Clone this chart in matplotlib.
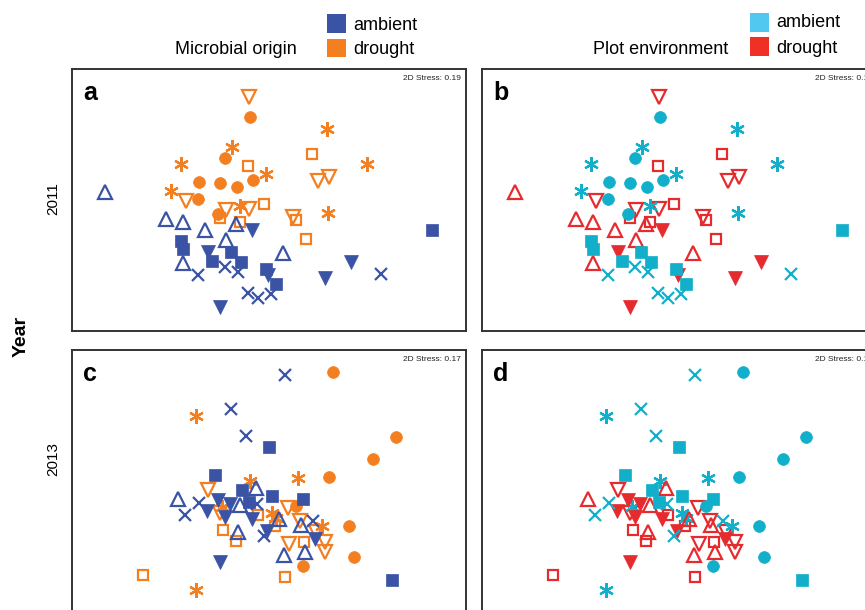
import matplotlib
matplotlib.use('Agg')
import matplotlib.pyplot as plt
from matplotlib.patches import Rectangle

plt.rcParams['font.family'] = ['Liberation Sans', 'DejaVu Sans']

# NMDS scores (same ordination in both columns,
# only the colouring differs). Marker = origin x environment combination.

# 2011
x11_sq_fill = [-0.88, -0.86, -0.38, -0.57, -0.28, -0.03, 0.07, 1.63]
y11_sq_fill = [-0.41, -0.49, -0.52, -0.61, -0.62, -0.69, -0.84, -0.30]
x11_cross = [-0.71, -0.44, -0.31, -0.21, -0.11, 0.02, 1.12]
y11_cross = [-0.75, -0.67, -0.72, -0.93, -0.98, -0.94, -0.74]
x11_tri_up = [-1.64, -1.03, -0.86, -0.64, -0.33, -0.43, 0.14, -0.86]
y11_tri_up = [0.08, -0.19, -0.22, -0.30, -0.24, -0.40, -0.53, -0.63]
x11_tri_dn_fill = [-0.17, -0.61, -0.01, 0.56, 0.82, -0.49]
y11_tri_dn_fill = [-0.30, -0.52, -0.75, -0.78, -0.62, -1.07]
x11_circle = [-0.19, -0.44, -0.70, -0.49, -0.32, -0.16, -0.71, -0.51]
y11_circle = [0.83, 0.42, 0.18, 0.17, 0.13, 0.20, 0.01, -0.14]
x11_star = [-0.37, -0.88, 0.58, -0.03, 0.98, -0.98, -0.29, 0.59]
y11_star = [0.53, 0.36, 0.71, 0.26, 0.36, 0.09, -0.06, -0.13]
x11_tri_dn = [-0.20, 0.49, 0.60, -0.83, -0.20, -0.43, 0.24]
y11_tri_dn = [1.03, 0.19, 0.23, -0.01, -0.09, -0.10, -0.17]
x11_sq_open = [0.43, -0.21, -0.05, -0.49, -0.29, 0.27, 0.37]
y11_sq_open = [0.46, 0.34, -0.04, -0.18, -0.22, -0.20, -0.39]

# 2013
x13_sq_fill = [0.00, -0.54, -0.27, 0.03, 0.34, -0.20, 1.23]
y13_sq_fill = [0.34, 0.06, -0.09, -0.15, -0.18, -0.21, -0.99]
x13_cross = [0.16, -0.38, -0.23, -0.70, -0.84, -0.12, -0.05, 0.44]
y13_cross = [1.06, 0.72, 0.45, -0.22, -0.34, -0.23, -0.55, -0.40]
x13_tri_up = [-0.91, -0.13, -0.29, 0.10, 0.32, -0.31, 0.15, 0.36]
y13_tri_up = [-0.18, -0.07, -0.24, -0.38, -0.44, -0.51, -0.74, -0.71]
x13_tri_dn_fill = [-0.51, -0.39, -0.62, -0.44, -0.17, -0.02, 0.46, -0.49]
y13_tri_dn_fill = [-0.19, -0.23, -0.30, -0.36, -0.38, -0.50, -0.58, -0.81]
x13_circle = [0.64, 1.27, 1.04, 0.60, 0.27, 0.80, 0.85, 0.34]
y13_circle = [1.09, 0.44, 0.22, 0.04, -0.25, -0.45, -0.76, -0.85]
x13_star = [-0.73, -0.19, 0.29, -0.47, 0.03, 0.07, 0.53, -0.73]
y13_star = [0.65, 0.00, 0.03, -0.26, -0.32, -0.37, -0.45, -1.09]
x13_tri_dn = [-0.61, -0.49, 0.19, 0.31, 0.47, 0.56, 0.20, 0.56]
y13_tri_dn = [-0.09, -0.32, -0.27, -0.40, -0.51, -0.61, -0.63, -0.71]
x13_sq_open = [-0.11, 0.06, -0.46, -0.33, 0.35, -1.26, 0.16]
y13_sq_open = [-0.34, -0.45, -0.49, -0.60, -0.61, -0.94, -0.96]

stress = {'a': '0.19', 'b': '0.19', 'c': '0.17', 'd': '0.17'}

# colours
origin_cols = {'ambient': '#3a53a4', 'drought': '#f47f20'}
env_cols = {'ambient': '#12afcb', 'drought': '#e62b2f'}
env_legend_cols = {'ambient': '#50c8ef', 'drought': '#ee3124'}

# marker style, filled?, origin, environment
groups = [
    ('sq_open', 's', False, 'drought', 'drought'),
    ('tri_dn', 'v', False, 'drought', 'drought'),
    ('circle', 'o', True, 'drought', 'ambient'),
    ('star', (6, 2, 0), True, 'drought', 'ambient'),
    ('tri_up', '^', False, 'ambient', 'drought'),
    ('tri_dn_fill', 'v', True, 'ambient', 'drought'),
    ('sq_fill', 's', True, 'ambient', 'ambient'),
    ('cross', 'x', True, 'ambient', 'ambient'),
]
data = {
    2011: {'sq_fill': (x11_sq_fill, y11_sq_fill), 'cross': (x11_cross, y11_cross),
           'tri_up': (x11_tri_up, y11_tri_up), 'tri_dn_fill': (x11_tri_dn_fill, y11_tri_dn_fill),
           'circle': (x11_circle, y11_circle), 'star': (x11_star, y11_star),
           'tri_dn': (x11_tri_dn, y11_tri_dn), 'sq_open': (x11_sq_open, y11_sq_open)},
    2013: {'sq_fill': (x13_sq_fill, y13_sq_fill), 'cross': (x13_cross, y13_cross),
           'tri_up': (x13_tri_up, y13_tri_up), 'tri_dn_fill': (x13_tri_dn_fill, y13_tri_dn_fill),
           'circle': (x13_circle, y13_circle), 'star': (x13_star, y13_star),
           'tri_dn': (x13_tri_dn, y13_tri_dn), 'sq_open': (x13_sq_open, y13_sq_open)},
}

sizes = {'s': 8, 'o': 8.5, 'v': 9.5, '^': 9.5, 'x': 8}

fig = plt.figure(figsize=(8.65, 6.1), dpi=100)
W, H = 865, 610


def px_axes(left, top, w, h):
    return fig.add_axes([left / W, (H - top - h) / H, w / W, h / H])


panels = [
    ('a', 2011, 'origin', px_axes(72, 69, 394, 262), (-1.97, 1.97)),
    ('b', 2011, 'env', px_axes(482, 69, 396, 262), (-1.97, 1.99)),
    ('c', 2013, 'origin', px_axes(72, 350, 394, 262), (-1.97, 1.97)),
    ('d', 2013, 'env', px_axes(482, 350, 396, 262), (-1.97, 1.99)),
]

for letter, year, colour_by, ax, xl in panels:
    for key, mk, filled, origin, env in groups:
        xs, ys = data[year][key]
        col = origin_cols[origin] if colour_by == 'origin' else env_cols[env]
        ms = sizes.get(mk, 10.5) if not isinstance(mk, tuple) else 10.5
        if mk == 's' and not filled:
            ms = 7
        ax.plot(xs, ys, linestyle='none', marker=mk, markersize=ms,
                markerfacecolor=col if filled else 'none',
                markeredgecolor=col, markeredgewidth=1.6 if not filled or mk in ('x',) or isinstance(mk, tuple) else 0.5)
    ax.set_xlim(*xl)
    ax.set_ylim(-1.31, 1.31)
    ax.set_xticks([])
    ax.set_yticks([])
    for sp in ax.spines.values():
        sp.set_linewidth(1.4)
        sp.set_color('#333333')
    ax.text(0.028, 0.955, letter, transform=ax.transAxes, fontsize=18,
            fontweight='bold', ha='left', va='top')
    ax.annotate('2D Stress: ' + stress[letter], xy=(1, 1), xycoords='axes fraction',
                xytext=(-4, -4), textcoords='offset points', ha='right', va='top',
                fontsize=6, color='#222222')

# row labels
fig.text(21 / W, 1 - 336 / H, 'Year', rotation=90, fontsize=14, fontweight='bold',
         ha='center', va='center')
fig.text(53 / W, 1 - 199 / H, '2011', rotation=90, fontsize=11, ha='center', va='center')
fig.text(53 / W, 1 - 459 / H, '2013', rotation=90, fontsize=11, ha='center', va='center')

# column legends
def legend_block(title, title_right, sq_left, top1, top2, cols, base1, base2):
    fig.text(title_right / W, 1 - 54 / H, title, fontsize=13, ha='right', va='baseline')
    for lab, top, base in (('ambient', top1, base1), ('drought', top2, base2)):
        fig.patches.append(Rectangle((sq_left / W, 1 - (top + 18.5) / H), 18.5 / W, 18.5 / H,
                                     transform=fig.transFigure, facecolor=cols[lab],
                                     edgecolor='none'))
        fig.text((sq_left + 26) / W, 1 - base / H, lab, fontsize=13, ha='left', va='baseline')


legend_block('Microbial origin', 297, 327, 14, 38.5, origin_cols, 29.5, 54)
legend_block('Plot environment', 728, 750, 13, 37, env_legend_cols, 27, 53)

fig.savefig('out.png', dpi=100)
